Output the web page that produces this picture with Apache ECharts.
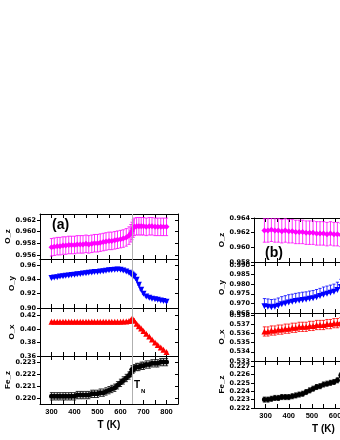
<!DOCTYPE html>
<html lang="en">
<head>
<meta charset="UTF-8">
<title>chart</title>
<script src="https://cdn.jsdelivr.net/npm/echarts@6.0.0/dist/echarts.min.js"></script>
<style>
  body { margin: 0; background: #fff; }
  #main { width: 340px; height: 440px; }
</style>
</head>
<body>
<div id="main"></div>
<script>
// panel (a): temperatures and the four refined coordinates
const tA = [300, 312, 325, 337, 350, 362, 375, 387, 400, 412,
            425, 437, 450, 462, 475, 487, 500, 512, 525, 537,
            550, 562, 575, 587, 600, 612, 625, 637, 645, 650,
            655, 660, 670, 680, 690, 700, 712, 725, 737, 750, 762, 775, 787, 800];
const ozA = [0.9573, 0.9574, 0.9575, 0.9575, 0.9576, 0.9576, 0.9577, 0.9577, 0.9577, 0.9578,
             0.9578, 0.9578, 0.9579, 0.9578, 0.9579, 0.9580, 0.9580, 0.9581, 0.9582, 0.9583,
             0.9584, 0.9584, 0.9585, 0.9586, 0.9587, 0.9588, 0.9590, 0.9593, 0.9597, 0.9601,
             0.9605, 0.9608, 0.9609, 0.9609, 0.9609, 0.9609, 0.9608, 0.9609, 0.9609, 0.9608, 0.9608, 0.9608, 0.9608, 0.9608];
const oyA = [0.9418, 0.9425, 0.9431, 0.9440, 0.9443, 0.9452, 0.9455, 0.9462, 0.9465, 0.9471,
             0.9475, 0.9482, 0.9485, 0.9492, 0.9495, 0.9502, 0.9505, 0.9511, 0.9514, 0.9520,
             0.9526, 0.9531, 0.9535, 0.9537, 0.9533, 0.9525, 0.9512, 0.9494, 0.9478, 0.9466,
             0.9452, 0.9436, 0.9395, 0.9325, 0.9255, 0.9198, 0.9162, 0.9142, 0.9131, 0.9124, 0.9115, 0.9106, 0.9097, 0.9088];
const oxA = [0.4108, 0.4109, 0.4107, 0.4108, 0.4109, 0.4108, 0.4107, 0.4109, 0.4108, 0.4108,
             0.4109, 0.4107, 0.4108, 0.4108, 0.4109, 0.4108, 0.4107, 0.4108, 0.4109, 0.4108,
             0.4108, 0.4109, 0.4108, 0.4107, 0.4108, 0.4110, 0.4112, 0.4118, 0.4128, 0.4150,
             0.4142, 0.4122, 0.4078, 0.4042, 0.4006, 0.3972, 0.3930, 0.3887, 0.3843, 0.3801, 0.3762, 0.3727, 0.3692, 0.3660];
const fezA = [0.2202, 0.2202, 0.2202, 0.2202, 0.2202, 0.2202, 0.2202, 0.2202, 0.2202, 0.2203,
              0.2203, 0.2203, 0.2203, 0.2203, 0.2204, 0.2204, 0.2204, 0.2205, 0.2205, 0.2206,
              0.2207, 0.2208, 0.2209, 0.2211, 0.2213, 0.2215, 0.2217, 0.2219, 0.2221, 0.2224,
              0.2224, 0.2225, 0.2226, 0.2226, 0.2227, 0.2227, 0.2228, 0.2228, 0.2229, 0.2229, 0.2229, 0.2230, 0.2230, 0.2230];
// error bar half widths (O_z, O_y, O_x, Fe_z)
const errA = [0.0015, 0.0008, 0.0004, 0.0003];

// panel (b)
const tB = [295, 310, 325, 340, 355, 370, 385, 400, 415, 430, 445, 460,
            475, 490, 505, 520, 535, 550, 565, 580, 595, 610, 625, 640];
const ozB = [0.9623, 0.9623, 0.9624, 0.9623, 0.9623, 0.9622, 0.9623, 0.9622, 0.9622, 0.9621, 0.9621, 0.9621,
             0.9620, 0.9620, 0.9620, 0.9619, 0.9619, 0.9619, 0.9618, 0.9619, 0.9618, 0.9618, 0.9617, 0.9617];
const oyB = [0.9685, 0.9683, 0.9680, 0.9682, 0.9688, 0.9695, 0.9700, 0.9705, 0.9708, 0.9712, 0.9715, 0.9718,
             0.9720, 0.9724, 0.9727, 0.9732, 0.9738, 0.9745, 0.9750, 0.9755, 0.9760, 0.9770, 0.9785, 0.9795];
const oxB = [0.5362, 0.5362, 0.5363, 0.5363, 0.5364, 0.5364, 0.5365, 0.5365, 0.5366, 0.5366, 0.5367, 0.5367,
             0.5367, 0.5368, 0.5368, 0.5369, 0.5369, 0.5369, 0.5370, 0.5370, 0.5371, 0.5371, 0.5372, 0.5372];
const fezB = [0.2230, 0.2230, 0.2231, 0.2232, 0.2232, 0.2233, 0.2233, 0.2233, 0.2234, 0.2235, 0.2236, 0.2237,
              0.2239, 0.2241, 0.2243, 0.2245, 0.2246, 0.2248, 0.2249, 0.2250, 0.2251, 0.2253, 0.2259, 0.2262];
const errB = [0.0016, 0.004, 0.0005, 0.0003];

// tick labels
const tLabels = [300, 400, 500, 600, 700, 800];
const tTicks = [250, 300, 350, 400, 450, 500, 550, 600, 650, 700, 750, 800, 850];
const yTicks = [
  [0.956, 0.958, 0.960, 0.962], [0.90, 0.92, 0.94, 0.96], [0.36, 0.38, 0.40, 0.42], [0.220, 0.221, 0.222, 0.223],
  [0.958, 0.960, 0.962, 0.964], [0.965, 0.970, 0.975, 0.980, 0.985, 0.990],
  [0.533, 0.534, 0.535, 0.536, 0.537, 0.538], [0.222, 0.223, 0.224, 0.225, 0.226, 0.227]
];
const tN = 650;

// plot boxes
const panels = [
  {box: [40, 214, 138, 45], range: [0.9553, 0.9630], dec: 3, name: 'O_z', t: tA, v: ozA, e: errA[0], up: false, color: '#ff00ff', sym: 'diamond'},
  {box: [40, 259, 138, 49], range: [0.900, 0.9685], dec: 2, name: 'O_y', t: tA, v: oyA, e: errA[1], up: false, color: '#0000ff', sym: 'triangle', rot: 180},
  {box: [40, 308, 138, 48], range: [0.360, 0.4311], dec: 2, name: 'O_x', t: tA, v: oxA, e: errA[2], up: false, color: '#ff0000', sym: 'triangle'},
  {box: [40, 356, 138, 48], range: [0.21957, 0.2235], dec: 3, name: 'Fe_z', t: tA, v: fezA, e: errA[3], up: false, color: '#000000', sym: 'circle', bottom: true},
  {box: [254, 218, 139, 44], range: [0.958, 0.964], dec: 3, name: 'O_z', t: tB, v: ozB, e: errB[0], up: false, color: '#ff00ff', sym: 'diamond'},
  {box: [254, 262, 139, 51], range: [0.965, 0.9915], dec: 3, name: 'O_y', t: tB, v: oyB, e: errB[1], up: true, color: '#0000ff', sym: 'triangle', rot: 180},
  {box: [254, 313, 139, 48], range: [0.533, 0.5382], dec: 3, name: 'O_x', t: tB, v: oxB, e: errB[2], up: false, color: '#ff0000', sym: 'triangle'},
  {box: [254, 361, 139, 47], range: [0.222, 0.2276], dec: 3, name: 'Fe_z', t: tB, v: fezB, e: errB[3], up: false, color: '#000000', sym: 'circle', bottom: true}
];

let grids = [], xAxes = [], yAxes = [], series = [];

panels.forEach((p, i) => {
  grids.push({left: p.box[0], top: p.box[1], width: p.box[2], height: p.box[3],
              containLabel: false, outerBoundsMode: 'none'});
  ['bottom', 'top'].forEach(pos => {
    xAxes.push({
      gridIndex: i, type: 'value', position: pos, min: 250, max: 850,
      axisLine: {show: true, onZero: false, lineStyle: {color: '#000', width: 1}},
      axisTick: {show: true, inside: true, length: 4, customValues: tTicks, lineStyle: {color: '#000'}},
      axisLabel: {show: pos === 'bottom' && !!p.bottom, customValues: tLabels, margin: 4,
                  fontSize: 7.5, fontWeight: 'bold', fontFamily: 'Liberation Sans', color: '#000'},
      splitLine: {show: false},
      name: pos === 'bottom' && p.bottom ? 'T (K)' : '',
      nameLocation: 'middle', nameGap: 16,
      nameTextStyle: {fontSize: 10, fontWeight: 'bold', fontFamily: 'Liberation Sans', color: '#000'}
    });
  });
  ['left', 'right'].forEach(pos => {
    yAxes.push({
      gridIndex: i, type: 'value', position: pos, min: p.range[0], max: p.range[1],
      axisLine: {show: true, onZero: false, lineStyle: {color: '#000', width: 1}},
      axisTick: {show: true, inside: pos === 'right', length: 3, customValues: yTicks[i], lineStyle: {color: '#000'}},
      axisLabel: {show: pos === 'left', customValues: yTicks[i], margin: 4,
                  formatter: v => v.toFixed(p.dec),
                  fontSize: 6.5, fontWeight: 'bold', fontFamily: 'DejaVu Sans', color: '#000'},
      splitLine: {show: false},
      name: pos === 'left' ? p.name : '',
      nameLocation: 'middle', nameGap: i < 4 ? 24 : 27,
      nameTextStyle: {fontSize: 8, fontWeight: 'bold', fontFamily: 'Liberation Sans', color: '#000'}
    });
  });

  // error bars
  series.push({
    type: 'custom', xAxisIndex: i * 2, yAxisIndex: i * 2, clip: true, z: 1, silent: true,
    data: p.t.map((t, k) => [t, p.up ? p.v[k] : p.v[k] - p.e, p.v[k] + p.e]),
    renderItem: (params, api) => {
      const hi = api.coord([api.value(0), api.value(2)]);
      const lo = api.coord([api.value(0), api.value(1)]);
      const st = {stroke: p.color, lineWidth: 0.8};
      const w = 1.6;
      const kids = [
        {type: 'line', shape: {x1: hi[0], y1: hi[1], x2: lo[0], y2: lo[1]}, style: st},
        {type: 'line', shape: {x1: hi[0] - w, y1: hi[1], x2: hi[0] + w, y2: hi[1]}, style: st}
      ];
      if (!p.up) kids.push({type: 'line', shape: {x1: lo[0] - w, y1: lo[1], x2: lo[0] + w, y2: lo[1]}, style: st});
      return {type: 'group', children: kids};
    }
  });

  const s = {
    type: 'line', xAxisIndex: i * 2, yAxisIndex: i * 2, z: 3,
    data: p.t.map((t, k) => [t, p.v[k]]),
    symbol: p.sym, symbolSize: p.sym === 'circle' ? 5 : 6, symbolRotate: p.rot || 0,
    lineStyle: {color: p.color, width: 1},
    itemStyle: {color: p.color},
    silent: true
  };
  if (i < 4) {
    s.markLine = {
      silent: true, symbol: 'none', label: {show: false},
      lineStyle: {color: '#b0b0b0', width: 1, type: 'solid'},
      data: [{xAxis: tN}]
    };
  }
  series.push(s);
});

const myChart = echarts.init(document.getElementById('main'));
myChart.setOption({
  animation: false,
  backgroundColor: '#fff',
  grid: grids,
  xAxis: xAxes,
  yAxis: yAxes,
  series: series,
  graphic: [
    {type: 'text', left: 52, top: 218, style: {text: '(a)', font: 'bold 14px "Liberation Sans"', fill: '#000'}},
    {type: 'text', left: 265, top: 246, style: {text: '(b)', font: 'bold 14px "Liberation Sans"', fill: '#000'}},
    {type: 'text', left: 134, top: 380, style: {text: 'T', font: 'bold 10px "Liberation Sans"', fill: '#000'}},
    {type: 'text', left: 141, top: 388, style: {text: 'N', font: 'bold 6px "Liberation Sans"', fill: '#000'}}
  ]
});
</script>
</body>
</html>
